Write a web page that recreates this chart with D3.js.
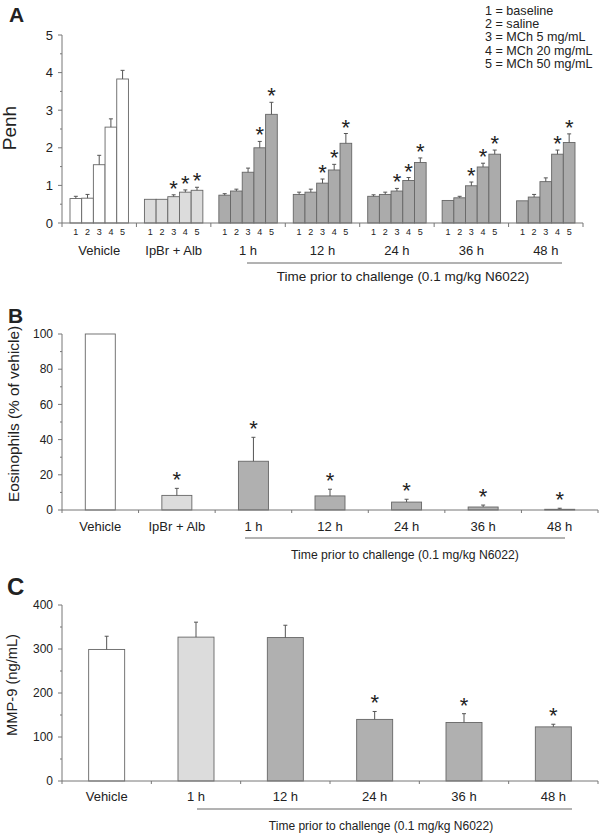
<!DOCTYPE html>
<html><head><meta charset="utf-8">
<script src="https://cdn.jsdelivr.net/npm/d3@7"></script>
<style>
html,body{margin:0;padding:0;background:#fff;}
svg text{font-family:"Liberation Sans",Arial,Helvetica,sans-serif;fill:#222;}
</style></head>
<body><svg id="c" width="600" height="835"></svg>
<script>
// ---------- DATA ----------
const doseLabels = ["1","2","3","4","5"];
const groupsA = ["Vehicle","IpBr + Alb","1 h","12 h","24 h","36 h","48 h"];
const penhMean = [
  [0.65,0.66,1.55,2.55,3.83],
  [0.63,0.63,0.70,0.82,0.87],
  [0.74,0.85,1.35,2.00,2.89],
  [0.76,0.82,1.06,1.41,2.12],
  [0.71,0.76,0.85,1.13,1.61],
  [0.60,0.67,0.99,1.49,1.83],
  [0.59,0.69,1.10,1.83,2.14]
];
const penhErrTop = [
  [0.71,0.76,1.80,2.77,4.06],
  [0.63,0.63,0.75,0.88,0.95],
  [0.78,0.90,1.46,2.17,3.21],
  [0.82,0.90,1.17,1.56,2.38],
  [0.75,0.82,0.92,1.21,1.73],
  [0.61,0.71,1.09,1.59,1.94],
  [0.60,0.76,1.20,1.94,2.37]
];
const penhSig = [
  [0,0,0,0,0],
  [0,0,1,1,1],
  [0,0,0,1,1],
  [0,0,1,1,1],
  [0,0,1,1,1],
  [0,0,1,1,1],
  [0,0,0,1,1]
];
const legendLines = ["1 = baseline","2 = saline","3 = MCh 5 mg/mL","4 = MCh 20 mg/mL","5 = MCh 50 mg/mL"];
const groupsB = ["Vehicle","IpBr + Alb","1 h","12 h","24 h","36 h","48 h"];
const eosMean = [100, 8.3, 27.7, 8.0, 4.5, 1.7, 0.4];
const eosErrTop = [100, 12.3, 41.3, 11.8, 6.1, 2.8, 1.0];
const eosSig = [0,1,1,1,1,1,1];
const groupsC = ["Vehicle","1 h","12 h","24 h","36 h","48 h"];
const mmpMean = [299, 327, 326, 140, 133, 123];
const mmpErrTop = [329, 361, 354, 158, 153, 129];
const mmpSig = [0,0,0,1,1,1];
const fillA = ["#ffffff","#dcdcdc","#ababab","#ababab","#ababab","#ababab","#ababab"];
const fillB = ["#ffffff","#dcdcdc","#b0b0b0","#b0b0b0","#b0b0b0","#b0b0b0","#b0b0b0"];
const fillC = ["#ffffff","#dcdcdc","#b0b0b0","#b0b0b0","#b0b0b0","#b0b0b0"];
const timeLabel = "Time prior to challenge (0.1 mg/kg N6022)";

// ---------- DRAW ----------
const svg = d3.select("#c");
const axisCol = "#777", barStroke = "#666", errCol = "#555";
const starSize = 22;

function yAxis(g, y, ticks, minor, fs, x0){
  g.append("line").attr("x1",x0).attr("x2",x0).attr("y1",y.range()[0]).attr("y2",y.range()[1]).attr("stroke",axisCol);
  minor.forEach(v=>g.append("line").attr("x1",x0-2).attr("x2",x0).attr("y1",y(v)).attr("y2",y(v)).attr("stroke",axisCol));
  ticks.forEach(v=>{
    g.append("line").attr("x1",x0-4).attr("x2",x0).attr("y1",y(v)).attr("y2",y(v)).attr("stroke",axisCol);
    g.append("text").attr("x",x0-9).attr("y",y(v)).attr("dy","0.35em").attr("text-anchor","end").attr("font-size",fs).text(v);
  });
}
function errBar(g, x, yTop, yVal){
  if (yVal - yTop < 0.5) return;
  g.append("line").attr("x1",x).attr("x2",x).attr("y1",yVal).attr("y2",yTop).attr("stroke",errCol);
  g.append("line").attr("x1",x-2).attr("x2",x+2).attr("y1",yTop).attr("y2",yTop).attr("stroke",errCol);
}
function star(g, x, yTop){
  g.append("text").attr("x",x).attr("y",yTop+1).attr("text-anchor","middle").attr("font-size",starSize).text("*");
}

// Panel A
(function(){
  const g = svg.append("g");
  const x = d3.scaleBand().domain(groupsA).range([62,583]).padding(0);
  const xi = d3.scaleBand().domain(doseLabels).range([8, x.bandwidth()-8]).padding(0);
  const y = d3.scaleLinear().domain([0,5]).range([223,35]);
  g.append("text").attr("x",9).attr("y",22).attr("font-size",21).attr("font-weight","bold").text("A");
  groupsA.forEach((grp,gi)=>{
    doseLabels.forEach((d,di)=>{
      const bx = x(grp)+xi(d), bw = xi.bandwidth();
      const v = penhMean[gi][di];
      g.append("rect").attr("x",bx).attr("y",y(v)).attr("width",bw).attr("height",y(0)-y(v))
        .attr("fill",fillA[gi]).attr("stroke",barStroke).attr("stroke-width",0.9);
      errBar(g, bx+bw/2, y(penhErrTop[gi][di]), y(v));
      if (penhSig[gi][di]) star(g, bx+bw/2, y(penhErrTop[gi][di]));
      g.append("text").attr("x",bx+bw/2).attr("y",235).attr("text-anchor","middle").attr("font-size",9).text(d);
    });
    g.append("text").attr("x",x(grp)+x.bandwidth()/2).attr("y",255).attr("text-anchor","middle").attr("font-size",13).text(grp);
  });
  g.append("line").attr("x1",62).attr("x2",583).attr("y1",y(0)).attr("y2",y(0)).attr("stroke",axisCol);
  for (let i=0;i<=groupsA.length;i++){
    const xx = 62 + i*x.bandwidth();
    g.append("line").attr("x1",xx).attr("x2",xx).attr("y1",y(0)).attr("y2",y(0)+4).attr("stroke",axisCol);
  }
  yAxis(g, y, [0,1,2,3,4,5], [0.5,1.5,2.5,3.5,4.5], 13, 62);
  g.append("text").attr("transform","translate(16,128) rotate(-90)").attr("text-anchor","middle").attr("font-size",19).text("Penh");
  g.append("line").attr("x1",247).attr("x2",562).attr("y1",263).attr("y2",263).attr("stroke","#666");
  g.append("text").attr("x",403).attr("y",281).attr("text-anchor","middle").attr("font-size",13.5).text(timeLabel);
  legendLines.forEach((t,i)=>g.append("text").attr("x",485).attr("y",15+i*13.2).attr("font-size",12.6).text(t));
})();

// Panel B
(function(){
  const g = svg.append("g");
  const x = d3.scaleBand().domain(groupsB).range([62,598]).padding(0);
  const y = d3.scaleLinear().domain([0,100]).range([510,334]);
  const bw = 30;
  g.append("text").attr("x",8).attr("y",323).attr("font-size",21).attr("font-weight","bold").text("B");
  groupsB.forEach((grp,gi)=>{
    const cx = x(grp)+x.bandwidth()/2;
    const v = eosMean[gi];
    g.append("rect").attr("x",cx-bw/2).attr("y",y(v)).attr("width",bw).attr("height",y(0)-y(v))
      .attr("fill",fillB[gi]).attr("stroke",barStroke).attr("stroke-width",0.9);
    errBar(g, cx, y(eosErrTop[gi]), y(v));
    if (eosSig[gi]) star(g, cx, y(eosErrTop[gi]) - 2);
    g.append("text").attr("x",cx).attr("y",531).attr("text-anchor","middle").attr("font-size",13).text(grp);
  });
  g.append("line").attr("x1",62).attr("x2",598).attr("y1",y(0)).attr("y2",y(0)).attr("stroke",axisCol);
  for (let i=0;i<=groupsB.length;i++){
    const xx = 62 + i*x.bandwidth();
    g.append("line").attr("x1",xx).attr("x2",xx).attr("y1",y(0)).attr("y2",y(0)+3).attr("stroke",axisCol);
  }
  yAxis(g, y, [0,20,40,60,80,100], [10,30,50,70,90], 12, 62);
  g.append("text").attr("transform","translate(19,414) rotate(-90)").attr("text-anchor","middle").attr("font-size",15.4).text("Eosinophils (% of vehicle)");
  g.append("line").attr("x1",245).attr("x2",565).attr("y1",538).attr("y2",538).attr("stroke","#666");
  g.append("text").attr("x",405).attr("y",559).attr("text-anchor","middle").attr("font-size",12.2).text(timeLabel);
})();

// Panel C
(function(){
  const g = svg.append("g");
  const x = d3.scaleBand().domain(groupsC).range([62,598]).padding(0);
  const y = d3.scaleLinear().domain([0,400]).range([781,605]);
  const bw = 36;
  g.append("text").attr("x",7).attr("y",595).attr("font-size",24).attr("font-weight","bold").text("C");
  groupsC.forEach((grp,gi)=>{
    const cx = x(grp)+x.bandwidth()/2;
    const v = mmpMean[gi];
    g.append("rect").attr("x",cx-bw/2).attr("y",y(v)).attr("width",bw).attr("height",y(0)-y(v))
      .attr("fill",fillC[gi]).attr("stroke",barStroke).attr("stroke-width",0.9);
    errBar(g, cx, y(mmpErrTop[gi]), y(v));
    if (mmpSig[gi]) star(g, cx, y(mmpErrTop[gi]) - 2);
    g.append("text").attr("x",cx).attr("y",801).attr("text-anchor","middle").attr("font-size",13).text(grp);
  });
  g.append("line").attr("x1",62).attr("x2",598).attr("y1",y(0)).attr("y2",y(0)).attr("stroke",axisCol);
  for (let i=0;i<=groupsC.length;i++){
    const xx = 62 + i*x.bandwidth();
    g.append("line").attr("x1",xx).attr("x2",xx).attr("y1",y(0)).attr("y2",y(0)+3).attr("stroke",axisCol);
  }
  yAxis(g, y, [0,100,200,300,400], [50,150,250,350], 12, 62);
  g.append("text").attr("transform","translate(17,685) rotate(-90)").attr("text-anchor","middle").attr("font-size",14.7).text("MMP-9 (ng/mL)");
  g.append("line").attr("x1",197).attr("x2",572).attr("y1",809).attr("y2",809).attr("stroke","#666");
  g.append("text").attr("x",381).attr("y",830).attr("text-anchor","middle").attr("font-size",12).text(timeLabel);
})();
</script></body></html>
